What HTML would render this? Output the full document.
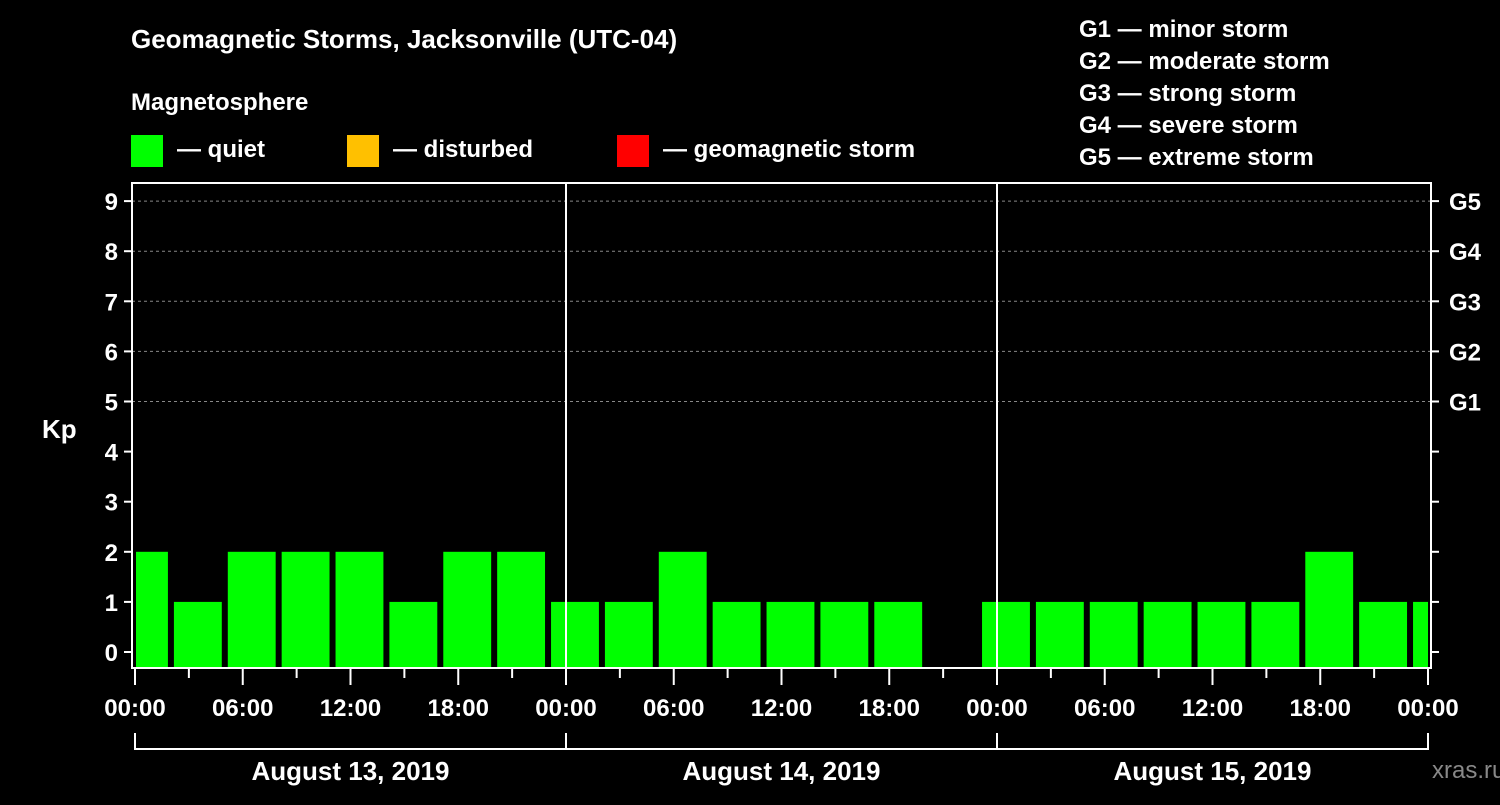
<!DOCTYPE html>
<html><head><meta charset="utf-8"><style>
body{margin:0;background:#000;}
svg text{font-family:"Liberation Sans",sans-serif;font-weight:bold;fill:#fff;}
</style></head><body>
<svg id="chart" width="1500" height="800" viewBox="0 0 1500 800" xmlns="http://www.w3.org/2000/svg">
<rect width="1500" height="800" fill="#000"/>
<text x="131" y="48" font-size="26">Geomagnetic Storms, Jacksonville (UTC-04)</text>
<text x="131" y="110" font-size="24">Magnetosphere</text>
<g><rect x="131" y="135" width="32" height="32" fill="#00ff00"/><text x="177" y="157" font-size="24">— quiet</text></g>
<g><rect x="347" y="135" width="32" height="32" fill="#ffc000"/><text x="393" y="157" font-size="24">— disturbed</text></g>
<g><rect x="617" y="135" width="32" height="32" fill="#ff0000"/><text x="663" y="157" font-size="24">— geomagnetic storm</text></g>
<g font-size="24">
<text x="1079" y="37">G1 — minor storm</text>
<text x="1079" y="69">G2 — moderate storm</text>
<text x="1079" y="101">G3 — strong storm</text>
<text x="1079" y="133">G4 — severe storm</text>
<text x="1079" y="165">G5 — extreme storm</text>
</g>
<text x="42" y="438" font-size="26">Kp</text>
<text x="1432" y="778" font-size="24" fill="#888" style="fill:#888;font-weight:normal">xras.ru</text>
<g id="grid"></g><g id="bars"></g><g id="axes"></g>
</svg>
<script>
const kpValues=[2,1,2,2,2,1,2,2,1,1,2,1,1,1,1,null,1,1,1,1,1,1,2,1,1];
const barStartHours=[-1,2,5,8,11,14,17,20,23,26,29,32,35,38,41,44,47,50,53,56,59,62,65,68,71];
const dayLabels=["August 13, 2019","August 14, 2019","August 15, 2019"];
const hourLabels=["00:00","06:00","12:00","18:00"];
const gLabels=["G1","G2","G3","G4","G5"];
const NS="http://www.w3.org/2000/svg";
const X0=135,PXH=431/24,L=132,R=1431,TOP=183,BOT=668;
const xs=h=>X0+h*PXH;
const ys=k=>652-k*50.1;
function mk(t,a,p){const e=document.createElementNS(NS,t);for(const k in a)e.setAttribute(k,a[k]);p.appendChild(e);return e;}
const grid=document.getElementById('grid'),bars=document.getElementById('bars'),axes=document.getElementById('axes');
for(let k=5;k<=9;k++){const l=mk('line',{x1:L,x2:R,y1:ys(k),y2:ys(k),stroke:'#888','stroke-dasharray':'3,3','stroke-width':1},grid);

}
kpValues.forEach((v,i)=>{if(v==null)return;
let x1=Math.max(xs(barStartHours[i])+3,L+4),x2=Math.min(xs(barStartHours[i]+3)-3,R-3);
const r=mk('rect',{x:x1,y:ys(v),width:x2-x1,height:BOT-ys(v),fill:v>=5?'#ff0000':v>=4?'#ffc000':'#00ff00'},bars);

});
const fr=mk('rect',{x:L,y:TOP,width:R-L,height:BOT-TOP,fill:'none',stroke:'#fff','stroke-width':2},axes);


for(let d=1;d<3;d++){const l=mk('line',{x1:xs(24*d),x2:xs(24*d),y1:TOP,y2:BOT,stroke:'#fff','stroke-width':2},axes);

}
for(let k=0;k<=9;k++){
mk('line',{x1:L-8,x2:L,y1:ys(k),y2:ys(k),stroke:'#fff','stroke-width':2},axes);
mk('line',{x1:R,x2:R+8,y1:ys(k),y2:ys(k),stroke:'#fff','stroke-width':2},axes);
const t=mk('text',{x:L-14,y:ys(k)+9,'font-size':24,'text-anchor':'end'},axes);t.textContent=k;

}
gLabels.forEach((g,i)=>{const t=mk('text',{x:1449,y:ys(5+i)+9,'font-size':24},axes);t.textContent=g;

});
for(let h=0;h<=72;h+=3){const major=h%6==0;mk('line',{x1:xs(h),x2:xs(h),y1:BOT,y2:BOT+(major?17:10),stroke:'#fff','stroke-width':2},axes);
if(major&&(h%24!=18||true)&&h%6==0&&(h%24)%6==0){
const t=mk('text',{x:xs(h),y:716,'font-size':24,'text-anchor':'middle'},axes);t.textContent=hourLabels[(h%24)/6];

}}
mk('line',{x1:xs(0),x2:xs(72),y1:749,y2:749,stroke:'#fff','stroke-width':2},axes);
for(let d=0;d<=3;d++)mk('line',{x1:xs(24*d),x2:xs(24*d),y1:733,y2:750,stroke:'#fff','stroke-width':2},axes);
dayLabels.forEach((s,d)=>{const t=mk('text',{x:xs(24*d+12),y:780,'font-size':26,'text-anchor':'middle'},axes);t.textContent=s;

});
</script>
</body></html>
